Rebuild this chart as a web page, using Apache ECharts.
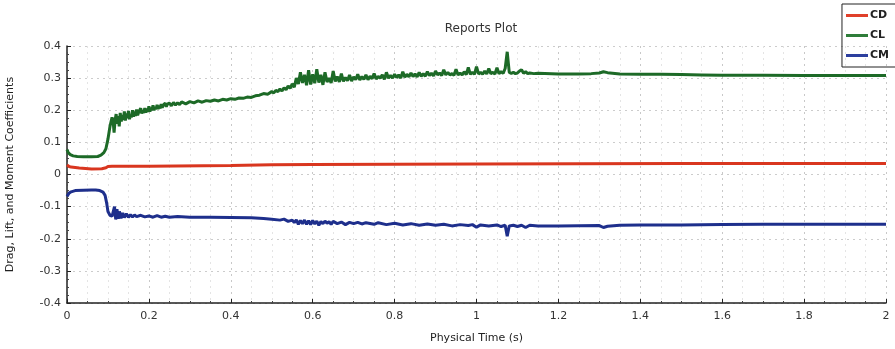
<!DOCTYPE html>
<html><head><meta charset="utf-8">
<script src="https://cdn.jsdelivr.net/npm/echarts@6/dist/echarts.min.js"></script>
<style>html,body{margin:0;padding:0;background:#fff}#c{width:895px;height:349px}</style>
</head><body><div id="c"></div>
<script>
const seriesNames = ['CD', 'CL', 'CM'];
const xTicks = [0, 0.2, 0.4, 0.6, 0.8, 1, 1.2, 1.4, 1.6, 1.8, 2];
const yTicks = [-0.4, -0.3, -0.2, -0.1, 0, 0.1, 0.2, 0.3, 0.4];

const timeCD = [0,0.005,0.01,0.03,0.06,0.085,0.095,0.1,0.11,0.2,0.4,0.5,0.6,0.8,1.0,1.5,2.0];
const valuesCD = [0.03,0.025,0.023,0.02,0.017,0.018,0.021,0.025,0.026,0.026,0.028,0.03,0.031,0.032,0.033,0.034,0.034];

const timeCL = [0,0.003,0.008,0.015,0.025,0.04,0.06,0.075,0.083,0.09,0.095,0.1,0.105,0.11,0.113,
  0.115,0.1175,0.12,0.1225,0.125,0.1275,0.13,0.1325,0.135,0.1375,0.14,0.1425,0.145,0.1475,0.15,0.1525,0.155,0.1575,0.16,0.1625,0.165,0.1675,0.17,0.1725,0.175,0.1775,0.18,0.1825,0.185,0.1875,0.19,0.1925,0.195,0.1975,0.2,0.2025,0.205,0.2075,0.21,0.2125,0.215,0.2175,0.22,0.2225,0.225,0.2275,0.23,0.2325,0.235,0.2375,0.24,0.2425,0.245,0.2475,0.25,
  0.255,0.26,0.265,0.27,0.275,0.28,0.29,0.3,0.31,0.32,0.33,0.34,0.35,0.36,0.37,0.38,0.39,0.4,0.41,0.42,0.43,0.44,0.45,0.46,0.47,0.48,0.49,0.5,0.505,0.51,0.515,0.52,0.525,0.53,0.535,0.54,0.545,0.55,0.555,0.56,0.565,0.57,0.575,0.58,0.585,0.59,0.595,0.6,0.605,0.61,0.615,0.62,0.625,0.63,0.635,0.64,0.645,0.65,0.655,0.66,0.665,0.67,0.675,0.68,0.685,0.69,0.695,0.7,0.705,0.71,0.715,0.72,0.725,0.73,0.735,0.74,0.745,0.75,0.755,0.76,0.765,0.77,0.775,0.78,0.785,0.79,0.795,0.8,0.805,0.81,0.815,0.82,0.825,0.83,0.835,0.84,0.845,0.85,0.855,0.86,0.865,0.87,0.875,0.88,0.885,0.89,0.895,0.9,0.905,0.91,0.915,0.92,0.925,0.93,0.935,0.94,0.945,0.95,0.955,0.96,0.965,0.97,0.975,0.98,0.985,0.99,0.995,1.0,1.005,1.01,1.015,1.02,1.025,1.03,1.035,1.04,1.045,1.05,1.055,1.06,1.065,1.07,1.075,1.08,1.085,1.09,1.095,1.1,1.105,1.11,1.115,1.12,1.125,1.13,1.14,1.15,1.2,1.25,1.28,1.3,1.31,1.32,1.35,1.4,1.45,1.5,1.55,1.6,1.7,1.8,1.9,2.0];
const valuesCL = [0.078,0.068,0.062,0.058,0.056,0.055,0.055,0.056,0.06,0.068,0.08,0.11,0.15,0.178,0.16,
  0.13,0.17,0.188,0.158,0.182,0.15,0.192,0.165,0.185,0.17,0.196,0.168,0.19,0.175,0.198,0.172,0.185,0.178,0.2,0.18,0.196,0.182,0.202,0.184,0.194,0.188,0.206,0.19,0.2,0.192,0.207,0.193,0.205,0.195,0.212,0.196,0.208,0.2,0.215,0.2,0.21,0.203,0.217,0.204,0.214,0.206,0.219,0.208,0.216,0.21,0.222,0.211,0.219,0.213,0.222,
  0.214,0.224,0.216,0.223,0.218,0.226,0.22,0.227,0.223,0.229,0.225,0.23,0.228,0.232,0.229,0.234,0.232,0.236,0.234,0.238,0.237,0.241,0.24,0.245,0.247,0.252,0.25,0.258,0.254,0.262,0.258,0.266,0.26,0.27,0.264,0.276,0.268,0.282,0.272,0.3,0.282,0.318,0.285,0.31,0.278,0.325,0.28,0.312,0.284,0.328,0.286,0.31,0.279,0.318,0.288,0.3,0.285,0.322,0.29,0.305,0.288,0.314,0.29,0.302,0.292,0.31,0.291,0.304,0.295,0.312,0.294,0.305,0.296,0.31,0.295,0.306,0.298,0.314,0.297,0.305,0.3,0.31,0.296,0.318,0.3,0.308,0.3,0.312,0.302,0.31,0.3,0.32,0.303,0.312,0.304,0.316,0.305,0.313,0.304,0.318,0.306,0.314,0.306,0.32,0.308,0.315,0.307,0.322,0.31,0.316,0.308,0.326,0.31,0.318,0.31,0.314,0.309,0.328,0.31,0.316,0.31,0.32,0.311,0.333,0.312,0.318,0.312,0.336,0.313,0.318,0.312,0.322,0.313,0.33,0.314,0.318,0.313,0.332,0.314,0.32,0.315,0.33,0.382,0.318,0.315,0.318,0.314,0.316,0.322,0.326,0.315,0.32,0.314,0.316,0.314,0.315,0.313,0.313,0.314,0.316,0.32,0.317,0.313,0.312,0.312,0.311,0.31,0.309,0.309,0.308,0.308,0.308];

const timeCM = [0,0.005,0.01,0.02,0.04,0.06,0.07,0.08,0.088,0.093,0.097,0.1,0.105,0.11,0.113,0.116,0.119,0.122,0.125,0.128,0.132,0.136,0.14,0.145,0.15,0.155,0.16,0.165,0.17,0.18,0.19,0.2,0.21,0.22,0.23,0.24,0.25,0.27,0.3,0.35,0.4,0.45,0.48,0.5,0.52,0.53,0.54,0.55,0.555,0.56,0.565,0.57,0.575,0.58,0.585,0.59,0.595,0.6,0.605,0.61,0.615,0.62,0.625,0.63,0.635,0.64,0.645,0.65,0.66,0.67,0.68,0.69,0.7,0.71,0.72,0.73,0.75,0.76,0.78,0.8,0.82,0.84,0.86,0.88,0.9,0.92,0.94,0.96,0.98,0.99,1.0,1.01,1.03,1.05,1.06,1.07,1.075,1.08,1.09,1.1,1.11,1.12,1.13,1.15,1.2,1.3,1.31,1.32,1.35,1.4,1.5,1.6,1.7,2.0];
const valuesCM = [-0.068,-0.058,-0.054,-0.05,-0.049,-0.048,-0.048,-0.05,-0.055,-0.065,-0.09,-0.115,-0.127,-0.13,-0.132,-0.1,-0.14,-0.108,-0.138,-0.115,-0.136,-0.12,-0.134,-0.122,-0.133,-0.125,-0.132,-0.126,-0.131,-0.127,-0.132,-0.129,-0.133,-0.128,-0.133,-0.13,-0.133,-0.131,-0.133,-0.133,-0.134,-0.135,-0.137,-0.139,-0.142,-0.139,-0.146,-0.142,-0.15,-0.141,-0.155,-0.143,-0.153,-0.142,-0.155,-0.144,-0.156,-0.143,-0.154,-0.145,-0.158,-0.146,-0.153,-0.145,-0.152,-0.147,-0.155,-0.146,-0.153,-0.148,-0.156,-0.149,-0.153,-0.149,-0.154,-0.15,-0.155,-0.15,-0.156,-0.152,-0.157,-0.153,-0.158,-0.154,-0.158,-0.155,-0.16,-0.156,-0.159,-0.156,-0.164,-0.157,-0.16,-0.157,-0.162,-0.158,-0.192,-0.16,-0.158,-0.162,-0.158,-0.165,-0.158,-0.16,-0.16,-0.159,-0.165,-0.161,-0.158,-0.157,-0.157,-0.156,-0.155,-0.155];

const colors = ['#d9361f', '#1d6a27', '#1e2f8c'];
const legendColors = ['#e0402a', '#2f7d3a', '#2c3f9e'];

function pairs(t, v) { return t.map((x, i) => [x, v[i]]); }
const seriesData = [pairs(timeCD, valuesCD), pairs(timeCL, valuesCL), pairs(timeCM, valuesCM)];

const fmt = v => { const r = Math.round(v * 10) / 10; return r === 0 ? '0' : String(r); };
const font = 'DejaVu Sans';

const chart = echarts.init(document.getElementById('c'), null, {renderer: 'canvas'});
chart.setOption({
  animation: false,
  backgroundColor: '#fff',
  title: {text: 'Reports Plot', left: 476, top: 18, textAlign: 'center',
    textStyle: {fontFamily: font, fontSize: 12, fontWeight: 'normal', color: '#333'}},
  legend: {
    orient: 'vertical', right: -6, top: 4, data: seriesNames.map((n, i) => ({name: n, itemStyle: {color: legendColors[i]}})),
    icon: 'rect', itemWidth: 22, itemHeight: 3, itemGap: 9,
    borderColor: '#222', borderWidth: 1, padding: [6, 12, 6, 4],
    textStyle: {fontFamily: font, fontSize: 11, fontWeight: 'bold', color: '#222', padding: [0, 0, 0, -3]}
  },
  grid: {left: 67, right: 9, top: 46, bottom: 46, containLabel: false, outerBoundsMode: 'none'},
  xAxis: {
    type: 'value', min: xTicks[0], max: xTicks[xTicks.length - 1], interval: 0.2,
    name: 'Physical Time (s)', nameLocation: 'middle', nameGap: 30,
    nameTextStyle: {fontFamily: font, fontSize: 11, color: '#222'},
    axisLine: {onZero: false, lineStyle: {color: '#222', width: 1.5}},
    axisTick: {inside: true, length: 4, lineStyle: {color: '#222'}},
    minorTick: {show: true, splitNumber: 4, length: 2, lineStyle: {color: '#444'}},
    axisLabel: {fontFamily: font, fontSize: 11, color: '#333', margin: 8, formatter: fmt},
    splitLine: {show: true, lineStyle: {color: '#c8c8c8', type: [2, 4]}},
    minorSplitLine: {show: true, lineStyle: {color: '#e4e4e4', type: [2, 4]}}
  },
  yAxis: {
    type: 'value', min: yTicks[0], max: yTicks[yTicks.length - 1], interval: 0.1,
    name: 'Drag, Lift, and Moment Coefficients', nameLocation: 'middle', nameGap: 51,
    nameTextStyle: {fontFamily: font, fontSize: 11, color: '#222'},
    axisLine: {onZero: false, lineStyle: {color: '#222', width: 1.5}},
    axisTick: {inside: true, length: 4, lineStyle: {color: '#222'}},
    minorTick: {show: true, splitNumber: 4, length: 2, lineStyle: {color: '#444'}},
    axisLabel: {fontFamily: font, fontSize: 11, color: '#333', margin: 6, formatter: fmt},
    splitLine: {show: true, lineStyle: {color: '#cccccc', type: [2, 4]}}
  },
  series: seriesNames.map((n, i) => ({
    name: n, type: 'line', data: seriesData[i], showSymbol: false, symbol: 'none',
    lineStyle: {color: colors[i], width: 3}, itemStyle: {color: colors[i]}, z: [2, 3, 2][i]
  }))
});
</script></body></html>
